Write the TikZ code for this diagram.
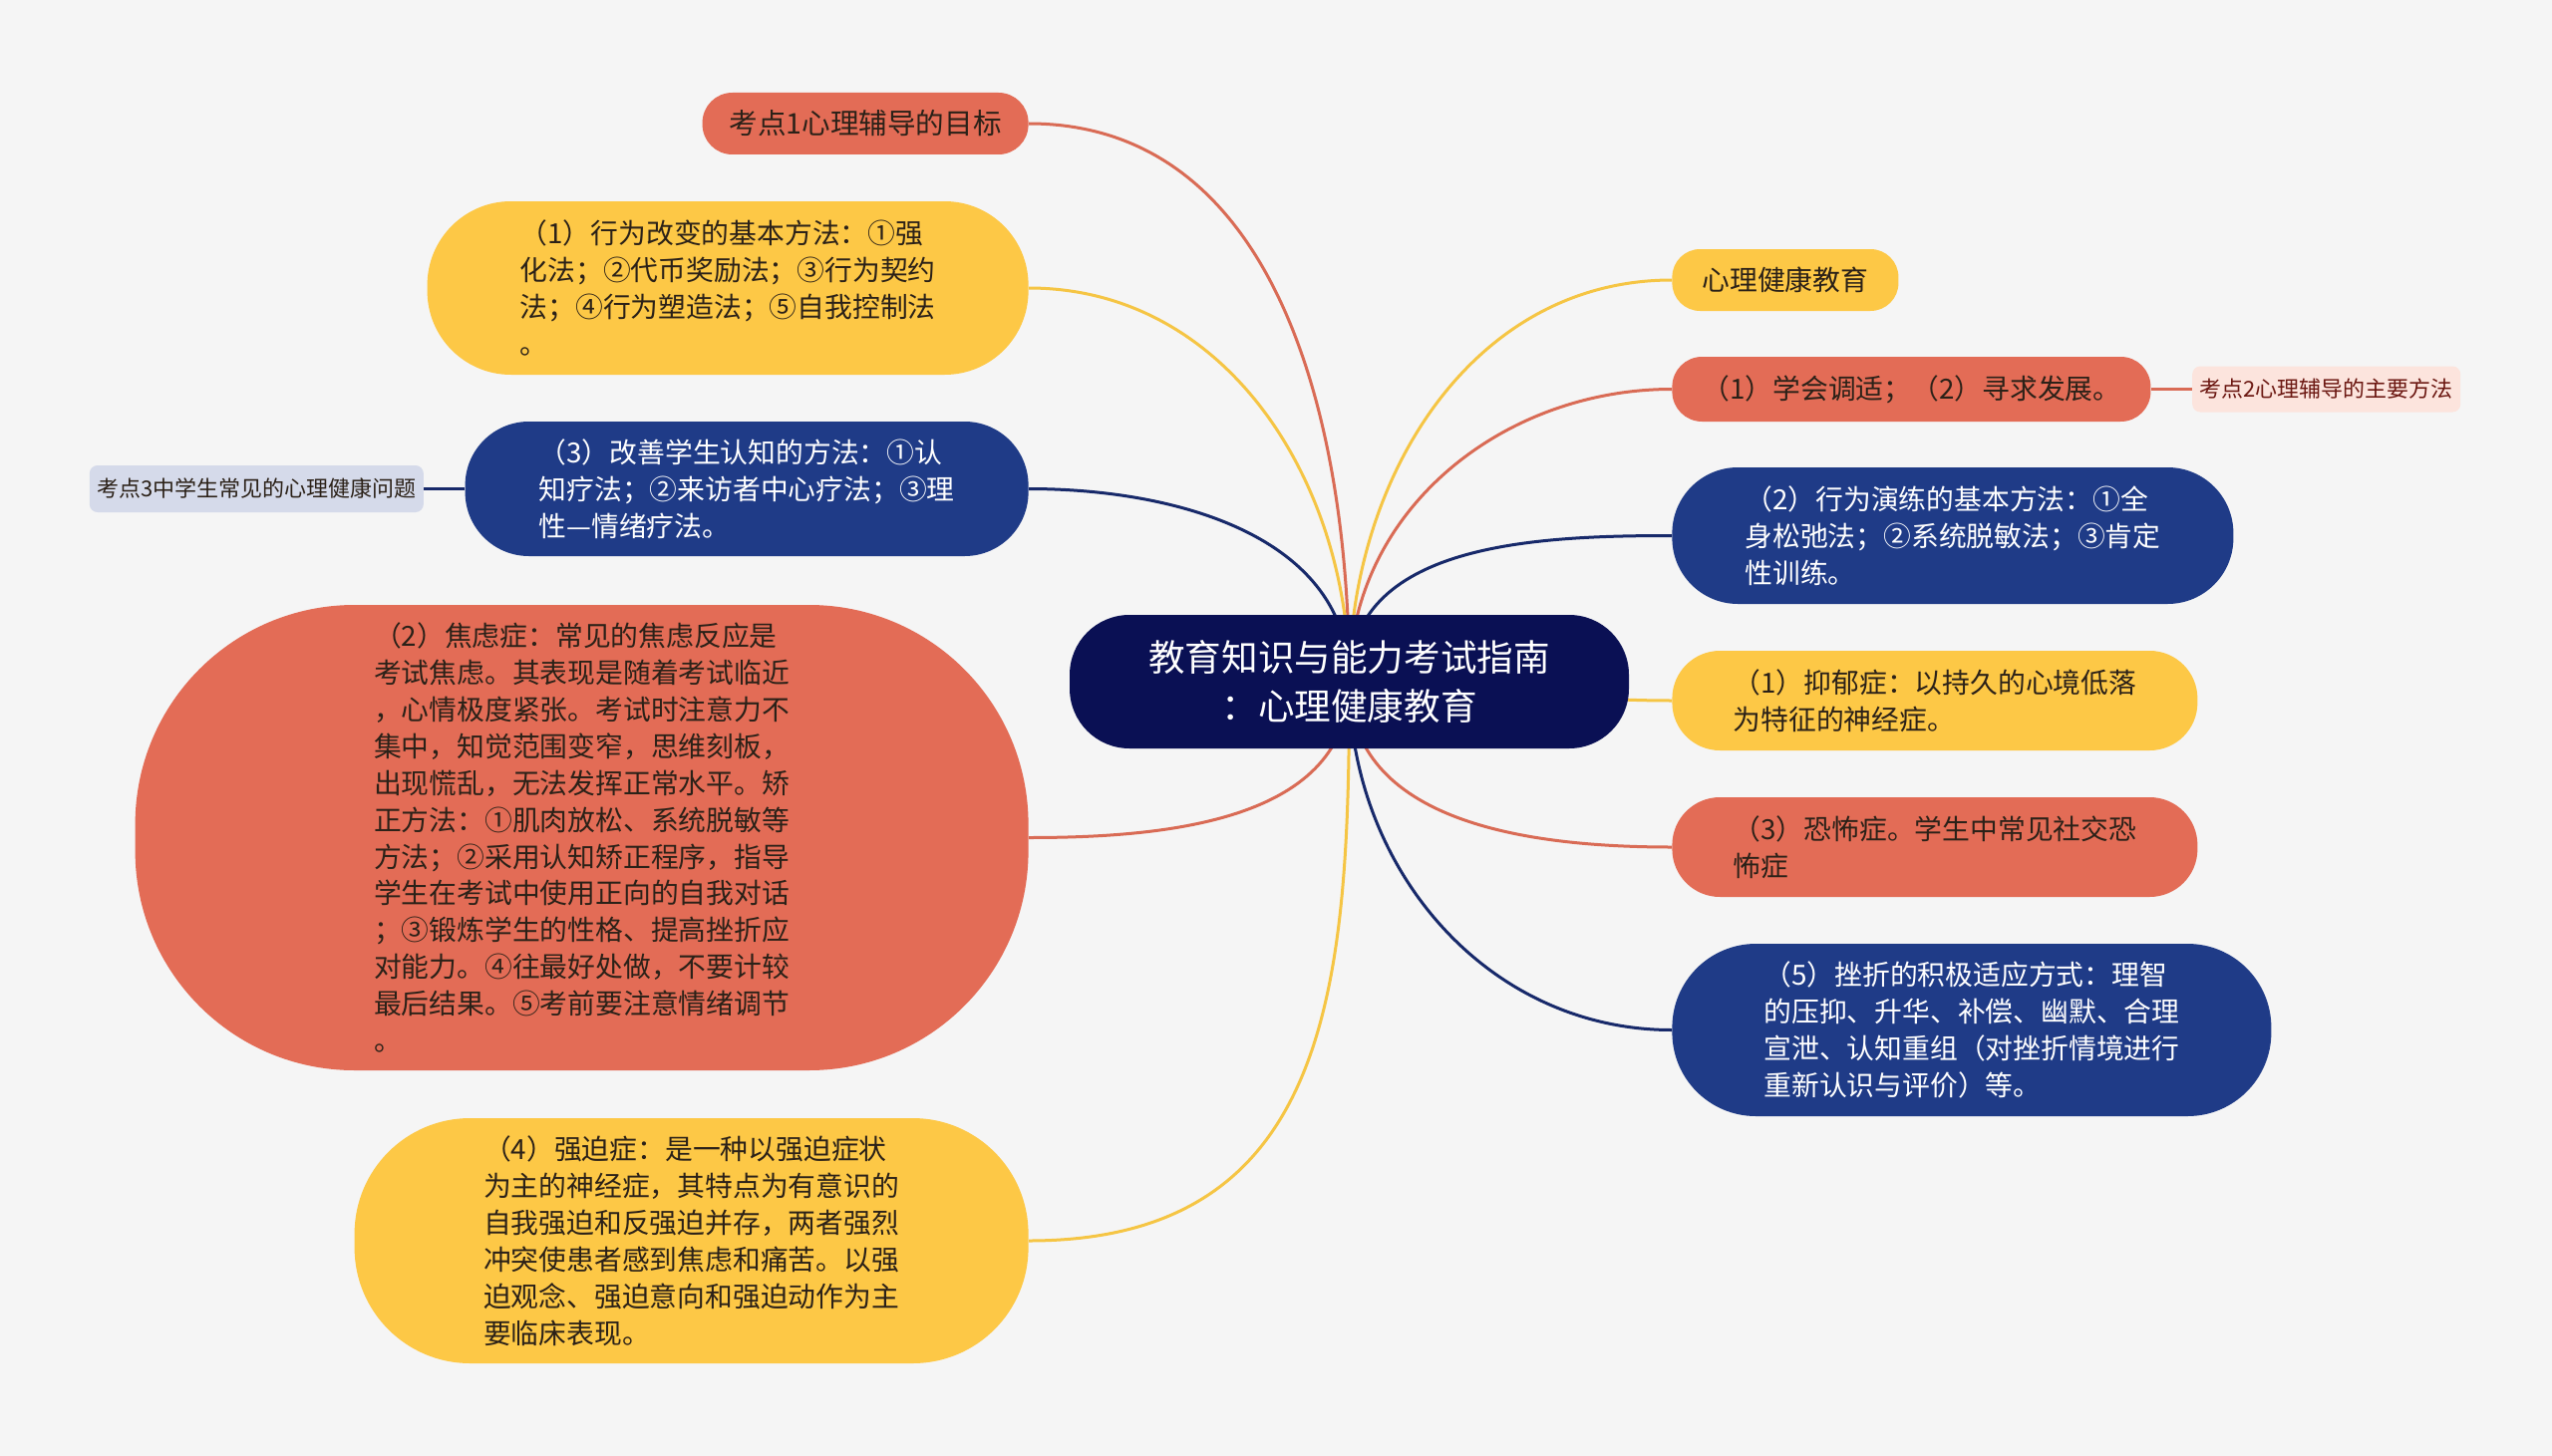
\documentclass[tikz,border=0pt]{standalone}
\usepackage{fontspec}
\setmainfont{Noto Sans CJK SC}
\usepackage{xcolor}
\usepackage{tikz}
\usetikzlibrary{positioning,backgrounds}

\definecolor{paper}{HTML}{F5F5F5}
\definecolor{mapred}{HTML}{E36C56}
\definecolor{mapyellow}{HTML}{FDC846}
\definecolor{mapblue}{HTML}{1F3B87}
\definecolor{mapnavy}{HTML}{0A1054}
\definecolor{maplilac}{HTML}{D5DAEA}
\definecolor{mappink}{HTML}{FCE4DD}
\definecolor{linered}{HTML}{D96B55}
\definecolor{lineyellow}{HTML}{F5C544}
\definecolor{lineblue}{HTML}{17296A}
\definecolor{inkdark}{HTML}{2B2118}

\begin{document}
\begin{tikzpicture}[
    x=0.5pt, y=-0.5pt,
    node distance=20.5pt,
    topic/.style={
        inner sep=2pt,
        align=left,
        font=\fontsize{13.9}{18.45}\selectfont
    },
    redbox/.style={topic, fill=mapred, text=inkdark},
    yellowbox/.style={topic, fill=mapyellow, text=inkdark},
    bluebox/.style={topic, fill=mapblue, text=white},
    tag/.style={
        inner sep=2pt,
        rounded corners=4pt,
        font=\fontsize{11}{14}\selectfont
    },
    root/.style={
        fill=mapnavy,
        text=white,
        align=center,
        font=\fontsize{18.3}{24.5}\selectfont
    },
    link/.style={line width=1.5pt}
]

\begin{scope}[on background layer]
\fill[paper] (0,0) rectangle (2560,1461);
\end{scope}
\useasboundingbox (0,0) rectangle (2560,1461);

\node[root, minimum width=280.5pt, minimum height=67pt, rounded corners=30pt]
    (center) at (1353.5,684) {教育知识与能力考试指南\\：心理健康教育};

% left side
\node[redbox, font=\fontsize{14.3}{18}\selectfont, minimum width=163.5pt,
    minimum height=31pt, rounded corners=15pt, anchor=east]
    (k1) at (1032,124) {考点1心理辅导的目标};

\node[yellowbox, minimum width=301.5pt, minimum height=87pt,
    rounded corners=42pt, anchor=east] (n_beh) at (1032,289) {
（1）行为改变的基本方法：①强\\
化法；②代币奖励法；③行为契约\\
法；④行为塑造法；⑤自我控制法\\
。};

\node[bluebox, minimum width=282.5pt, minimum height=67.5pt,
    rounded corners=32pt, anchor=east] (n_cog) at (1032,490.5) {
（3）改善学生认知的方法：①认\\
知疗法；②来访者中心疗法；③理\\
性—情绪疗法。};

\node[tag, fill=maplilac, text=inkdark, minimum width=167.5pt,
    minimum height=23.5pt, left=of n_cog] (k3) {考点3中学生常见的心理健康问题};

\node[redbox, minimum width=448pt, minimum height=233.5pt,
    rounded corners=110pt, anchor=east] (n_anx) at (1032,840.5) {
（2）焦虑症：常见的焦虑反应是\\
考试焦虑。其表现是随着考试临近\\
，心情极度紧张。考试时注意力不\\
集中，知觉范围变窄，思维刻板，\\
出现慌乱，无法发挥正常水平。矫\\
正方法：①肌肉放松、系统脱敏等\\
方法；②采用认知矫正程序，指导\\
学生在考试中使用正向的自我对话\\
；③锻炼学生的性格、提高挫折应\\
对能力。④往最好处做，不要计较\\
最后结果。⑤考前要注意情绪调节\\
。};

\node[yellowbox, minimum width=338pt, minimum height=123pt,
    rounded corners=58pt, anchor=east] (n_ocd) at (1032,1245) {
（4）强迫症：是一种以强迫症状\\
为主的神经症，其特点为有意识的\\
自我强迫和反强迫并存，两者强烈\\
冲突使患者感到焦虑和痛苦。以强\\
迫观念、强迫意向和强迫动作为主\\
要临床表现。};

% right side
\node[yellowbox, minimum width=113.5pt, minimum height=31pt,
    rounded corners=14pt, anchor=west] (n_edu) at (1677,281) {心理健康教育};

\node[redbox, minimum width=240pt, minimum height=32.5pt,
    rounded corners=15pt, anchor=west] (n_goal) at (1677,390.5)
    {（1）学会调适；（2）寻求发展。};

\node[tag, fill=mappink, text=inkdark!70!red, minimum width=134.5pt,
    minimum height=23pt, right=of n_goal] (k2) {考点2心理辅导的主要方法};

\node[bluebox, minimum width=281.5pt, minimum height=68.5pt,
    rounded corners=33pt, anchor=west] (n_act) at (1677,537.5) {
（2）行为演练的基本方法：①全\\
身松弛法；②系统脱敏法；③肯定\\
性训练。};

\node[yellowbox, minimum width=263.5pt, minimum height=50pt,
    rounded corners=24pt, anchor=west] (n_dep) at (1677,703) {
（1）抑郁症：以持久的心境低落\\
为特征的神经症。};

\node[redbox, minimum width=263.5pt, minimum height=50pt,
    rounded corners=24pt, anchor=west] (n_pho) at (1677,850) {
（3）恐怖症。学生中常见社交恐\\
怖症};

\node[bluebox, minimum width=300.5pt, minimum height=86.5pt,
    rounded corners=42pt, anchor=west] (n_frus) at (1677,1033.5) {
（5）挫折的积极适应方式：理智\\
的压抑、升华、补偿、幽默、合理\\
宣泄、认知重组（对挫折情境进行\\
重新认识与评价）等。};

\begin{scope}[on background layer]
\draw[link, linered] (center.center) to[out=90, in=0] (k1.east);
\draw[link, lineyellow] (center.center) to[out=90, in=0] (n_beh.east);
\draw[link, lineblue] (center.center) to[out=90, in=0] (n_cog.east);
\draw[link, linered] (center.center) to[out=-90, in=0] (n_anx.east);
\draw[link, lineyellow] (center.center) to[out=-90, in=0, looseness=1.2] (n_ocd.east);
\draw[link, lineyellow] (center.center) to[out=90, in=180] (n_edu.west);
\draw[link, linered] (center.center) to[out=90, in=180] (n_goal.west);
\draw[link, lineblue] (center.center) to[out=90, in=180] (n_act.west);
\draw[link, lineyellow] (center.center) to[out=0, in=180] (n_dep.west);
\draw[link, linered] (center.center) to[out=-90, in=180] (n_pho.west);
\draw[link, lineblue] (center.center) to[out=-90, in=180] (n_frus.west);
\draw[link, lineblue] (k3) -- (n_cog);
\draw[link, linered] (n_goal) -- (k2);
\end{scope}

\end{tikzpicture}
\end{document}
